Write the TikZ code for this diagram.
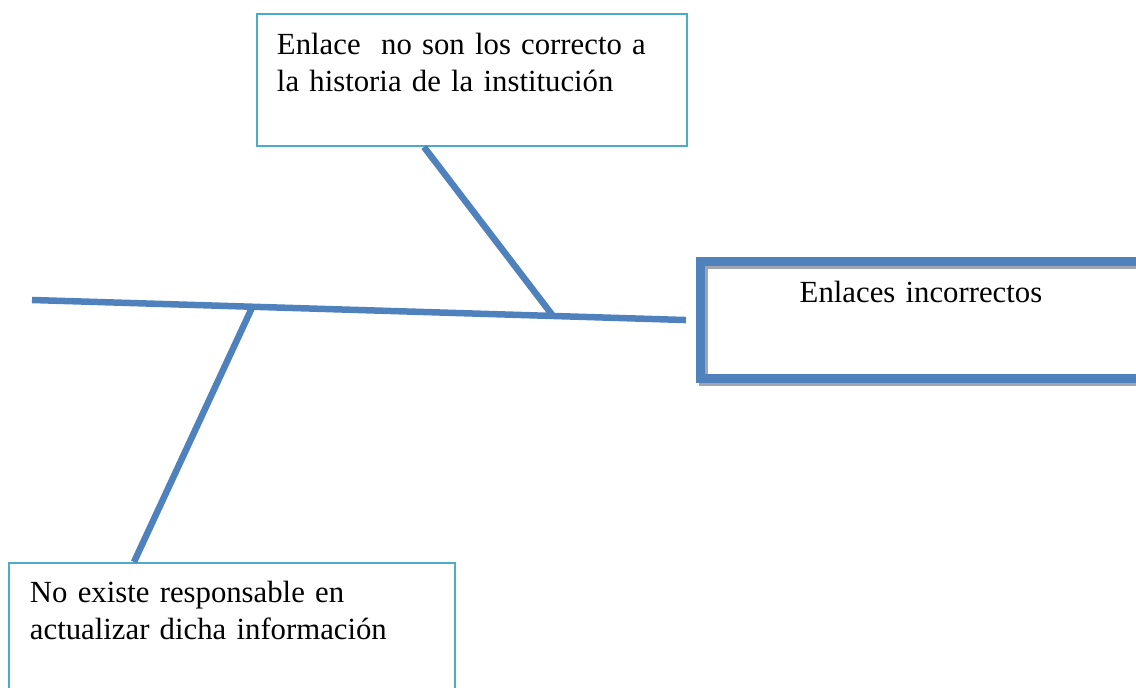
\documentclass[tikz,border=0pt]{standalone}
\usepackage{fontspec}
\setmainfont{Liberation Serif}
\usetikzlibrary{backgrounds}
\definecolor{bone}{RGB}{79,129,189}
\definecolor{frame}{RGB}{75,172,198}
\definecolor{shadowgrey}{RGB}{160,165,175}

\begin{document}
\begin{tikzpicture}[x=0.02cm,y=-0.02cm,
    bone/.style={draw=bone,line width=0.13cm},
    cause/.style={draw=frame,line width=0.04cm,anchor=north west,align=left,
      inner ysep=0pt,text height=0.8cm,font=\fontsize{17.5}{21}\selectfont},
    effect/.style={draw=bone,line width=0.18cm,outer sep=0pt,anchor=north west,
      align=center,inner sep=0pt,font=\fontsize{17.5}{21}\selectfont}]

  \useasboundingbox (0,0) rectangle (1136,688);
  \clip (0,0) rectangle (1136,688);

  \node[cause,inner xsep=0.4cm,text width=7.8cm,text height=0.82cm,text depth=1.82cm]
    (historia) at (256,13) {Enlace\ \ no son los correcto a\\la historia de la instituci\'on};
  \node[cause,inner xsep=0.42cm,text width=8.08cm,text depth=2cm]
    (responsable) at (8,562) {No existe responsable en\\actualizar dicha informaci\'on};
  \node[effect,text width=8.84cm,text height=0.82cm,text depth=1.52cm]
    (enlaces) at (700,262) {Enlaces incorrectos};

  % shadow of the effect box
  \begin{scope}[on background layer]
    \draw[draw=shadowgrey,line width=0.18cm] ([shift={(3,3)}]enlaces.north west)
      rectangle ([shift={(3,3)}]enlaces.south east);
  \end{scope}

  \coordinate (tail) at (32,300);
  \draw[bone,shorten >=0.28cm] (tail) -- (enlaces.west)
    coordinate[pos=0.78] (j1) coordinate[pos=0.33] (j2);

  \draw[bone] ([xshift=-0.96cm]historia.south) -- (j1);
  \draw[bone] ([xshift=2.52cm]responsable.north west) -- (j2);

\end{tikzpicture}
\end{document}
